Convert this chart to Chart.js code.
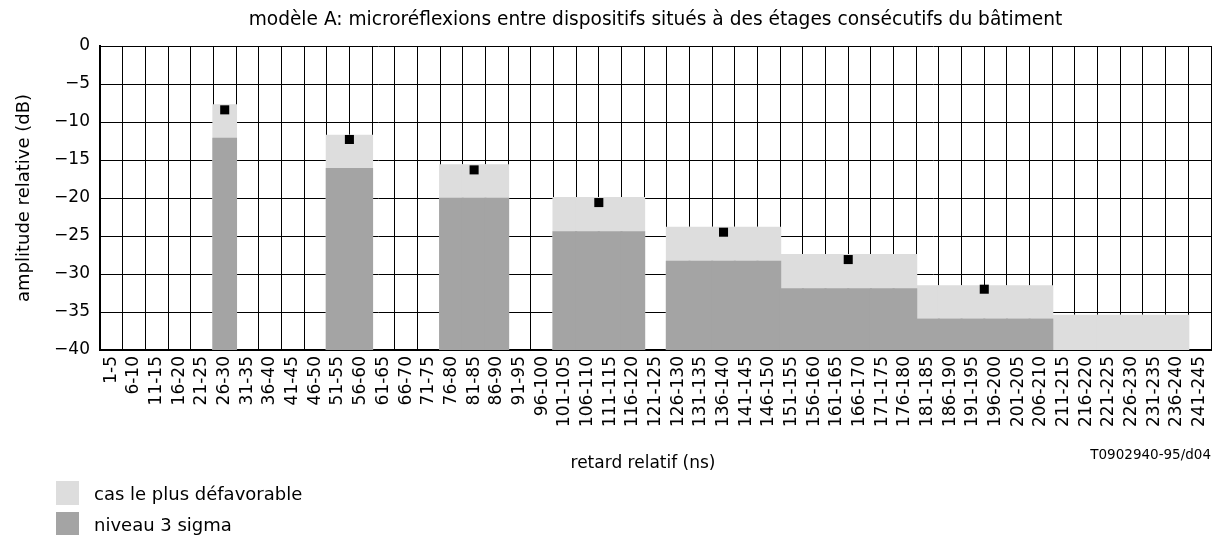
<!DOCTYPE html>
<html lang="fr">
<head>
<meta charset="utf-8">
<title>modèle A: microréflexions</title>
<script src="https://cdn.jsdelivr.net/npm/chart.js@4.4.1/dist/chart.umd.min.js"></script>
<style>
    html, body { margin: 0; padding: 0; background: #fff; }
    #wrap { position: relative; width: 1219px; height: 535px; overflow: hidden; }
    #chart { position: absolute; left: 0; top: 0; }
    #legend { position: absolute; left: 56px; top: 481px; font: 18px "DejaVu Sans", sans-serif; color: #000; }
    #legend .item { display: flex; align-items: center; height: 24px; margin-bottom: 7px; }
    #legend .sw { display: inline-block; width: 23px; height: 24px; margin-right: 15px; }
</style>
</head>
<body>
<div id="wrap">
    <canvas id="chart" width="1219" height="535"></canvas>
    <div id="legend"></div>
</div>
<script>
// --- Data ---
const delayLabels = [
    '1-5', '6-10', '11-15', '16-20', '21-25', '26-30', '31-35', '36-40', '41-45', '46-50',
    '51-55', '56-60', '61-65', '66-70', '71-75', '76-80', '81-85', '86-90', '91-95', '96-100',
    '101-105', '106-110', '111-115', '116-120', '121-125', '126-130', '131-135', '136-140', '141-145', '146-150',
    '151-155', '156-160', '161-165', '166-170', '171-175', '176-180', '181-185', '186-190', '191-195', '196-200',
    '201-205', '206-210', '211-215', '216-220', '221-225', '226-230', '231-235', '236-240', '241-245'
];

// cas le plus défavorable (dB)
const worstCase = [
    null, null, null, null, null, -7.8, null, null, null, null,
    -11.8, -11.8, null, null, null, -15.7, -15.7, -15.7, null, null,
    -20.0, -20.0, -20.0, -20.0, null, -23.9, -23.9, -23.9, -23.9, -23.9,
    -27.5, -27.5, -27.5, -27.5, -27.5, -27.5, -31.6, -31.6, -31.6, -31.6,
    -31.6, -31.6, -35.5, -35.5, -35.5, -35.5, -35.5, -35.5, null
];

// niveau 3 sigma (dB)
const sigmaLevel = [
    null, null, null, null, null, -12.2, null, null, null, null,
    -16.2, -16.2, null, null, null, -20.1, -20.1, -20.1, null, null,
    -24.5, -24.5, -24.5, -24.5, null, -28.4, -28.4, -28.4, -28.4, -28.4,
    -32.0, -32.0, -32.0, -32.0, -32.0, -32.0, -36.0, -36.0, -36.0, -36.0,
    -36.0, -36.0, null, null, null, null, null, null, null
];

// black markers: position in category units (centre of each group) and level
const markerPos = [5, 10.5, 16, 21.5, 27, 32.5, 38.5];
const markerLevel = [-8.4, -12.3, -16.3, -20.6, -24.5, -28.1, -32.0];

const yTicks = [0, -5, -10, -15, -20, -25, -30, -35, -40];

const chartTitle = 'modèle A: microréflexions entre dispositifs situés à des étages consécutifs du bâtiment';
const xTitle = 'retard relatif (ns)';
const yTitle = 'amplitude relative (dB)';
const figureCode = 'T0902940-95/d04';

const LIGHT = '#dddddd';
const DARK = '#a4a4a4';
const FONT = '"DejaVu Sans", sans-serif';
const Y_MIN = -40;

// bars start at the bottom of the scale
const toFloating = arr => arr.map(v => v === null ? null : [Y_MIN, v]);

// --- Extra texts (title, x title, figure code) ---
const textPlugin = {
    id: 'figureTexts',
    afterDraw(chart) {
        const { ctx, chartArea } = chart;
        ctx.save();
        ctx.fillStyle = '#000';
        ctx.textBaseline = 'alphabetic';
        ctx.font = '18.6px ' + FONT;
        ctx.textAlign = 'center';
        ctx.fillText(chartTitle, (chartArea.left + chartArea.right) / 2, 25);
        ctx.font = '17px ' + FONT;
        ctx.fillText(xTitle, 643, 468);
        ctx.font = '13.5px ' + FONT;
        ctx.textAlign = 'right';
        ctx.fillText(figureCode, chartArea.right, 459);
        ctx.restore();
    }
};

const ctx = document.getElementById('chart');
new Chart(ctx, {
    type: 'bar',
    data: {
        labels: delayLabels,
        datasets: [
            {
                type: 'scatter',
                label: 'marqueurs',
                data: markerPos.map((x, i) => ({ x: x, y: markerLevel[i] })),
                xAxisID: 'xm',
                pointStyle: 'rect',
                pointRadius: 6.4,
                pointBorderWidth: 0,
                backgroundColor: '#000',
                borderColor: '#000',
                order: 0
            },
            {
                label: 'niveau 3 sigma',
                data: toFloating(sigmaLevel),
                backgroundColor: DARK,
                borderWidth: 0,
                inflateAmount: 1,
                grouped: false,
                categoryPercentage: 1,
                barPercentage: 1,
                order: 1
            },
            {
                label: 'cas le plus défavorable',
                data: toFloating(worstCase),
                backgroundColor: LIGHT,
                borderWidth: 0,
                inflateAmount: 1,
                grouped: false,
                categoryPercentage: 1,
                barPercentage: 1,
                order: 2
            }
        ]
    },
    options: {
        responsive: false,
        animation: false,
        layout: { padding: { top: 46, right: 8, left: 0, bottom: 0 } },
        plugins: {
            legend: { display: false },
            title: { display: false },
            tooltip: { enabled: false }
        },
        scales: {
            x: {
                type: 'category',
                offset: true,
                grid: { offset: true, color: '#000', lineWidth: 1, drawTicks: false },
                border: { display: true, color: '#000', width: 2 },
                ticks: {
                    autoSkip: false,
                    maxRotation: 90,
                    minRotation: 90,
                    padding: 6,
                    color: '#000',
                    font: { family: FONT, size: 17 }
                },
                afterFit(scale) {
                    scale.height = 185;
                    scale.paddingLeft = 0;
                    scale.paddingRight = 0;
                }
            },
            xm: {
                type: 'linear',
                display: false,
                offset: false,
                grid: { offset: false },
                min: -0.5,
                max: 48.5
            },
            y: {
                min: Y_MIN,
                max: 0,
                afterBuildTicks(scale) { scale.ticks = yTicks.map(v => ({ value: v })); },
                grid: { color: '#000', lineWidth: 1, drawTicks: false },
                border: { display: true, color: '#000', width: 2 },
                ticks: {
                    padding: 10,
                    color: '#000',
                    font: { family: FONT, size: 17 },
                    callback: v => String(v).replace('-', '\u2212')
                },
                title: {
                    display: true,
                    text: yTitle,
                    color: '#000',
                    font: { family: FONT, size: 18 },
                    padding: { top: 14, bottom: 0 }
                },
                afterFit(scale) { scale.width = 100; }
            }
        }
    },
    plugins: [textPlugin]
});

// --- Legend ---
const legendItems = [
    { text: 'cas le plus défavorable', color: LIGHT },
    { text: 'niveau 3 sigma', color: DARK }
];
const legendEl = document.getElementById('legend');
legendItems.forEach(item => {
    const row = document.createElement('div');
    row.className = 'item';
    const sw = document.createElement('span');
    sw.className = 'sw';
    sw.style.backgroundColor = item.color;
    row.appendChild(sw);
    row.appendChild(document.createTextNode(item.text));
    legendEl.appendChild(row);
});
</script>
</body>
</html>
